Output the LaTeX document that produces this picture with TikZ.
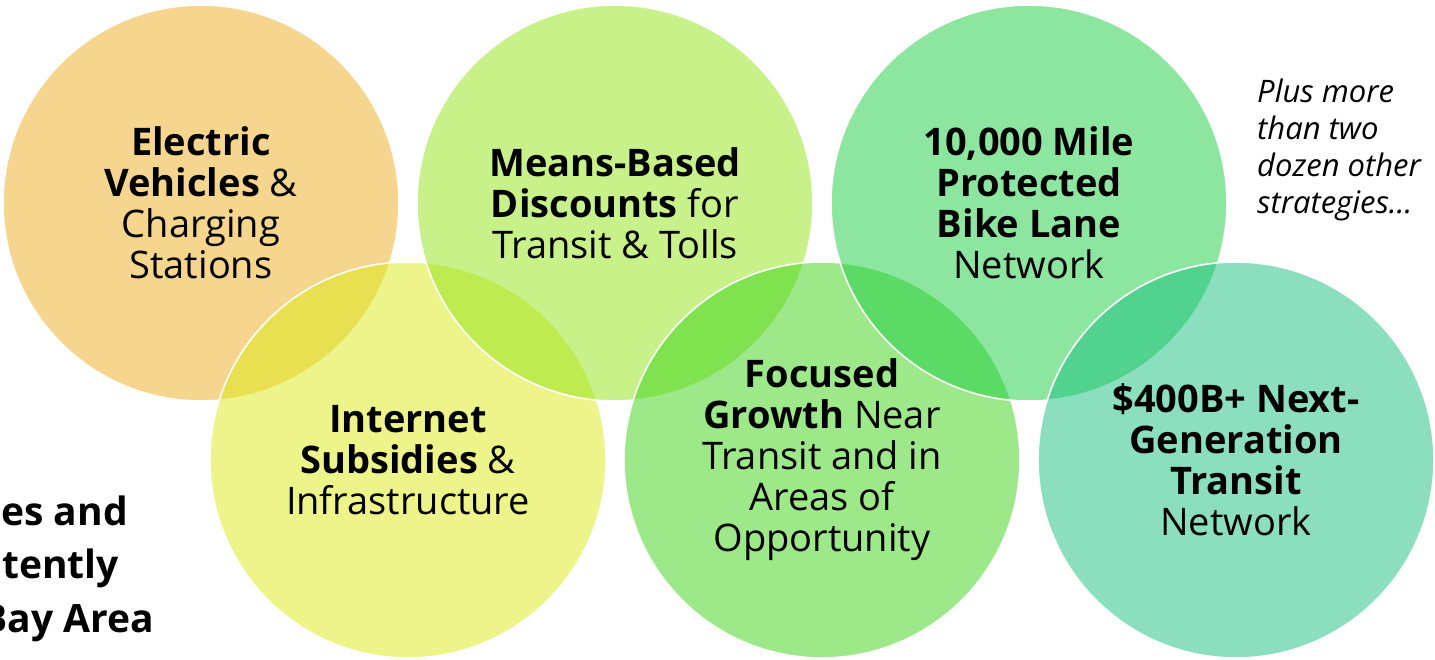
\documentclass[tikz,border=0pt]{standalone}
\usepackage{fontspec}
\setmainfont{Open Sans}
\definecolor{evcol}{RGB}{237,173,31}
\definecolor{meanscol}{RGB}{145,227,21}
\definecolor{netcol}{RGB}{219,235,21}
\definecolor{growcol}{RGB}{59,211,21}
\definecolor{bikecol}{RGB}{27,205,65}
\definecolor{transitcol}{RGB}{23,191,125}
\begin{document}
\begin{tikzpicture}[x=1pt,y=-1pt,
  bubble/.style={circle, draw=white, line width=1.6pt, minimum size=396pt,
    inner sep=0pt, fill opacity=0.5, text opacity=1, align=center,
    font=\fontsize{38}{41}\selectfont},
  note/.style={font=\itshape\fontsize{31}{37}\selectfont, align=left,
    anchor=base west, inner sep=0pt},
  side/.style={font=\bfseries\fontsize{39}{54}\selectfont, anchor=base east, inner sep=0pt}]
\useasboundingbox (0,0) rectangle (1435,659);
\clip (0,0) rectangle (1435,659);

% bubbles, drawn in zig-zag order so each later one overlaps the previous
\node[bubble, fill=evcol] (ev) at (201,203)
  {\textbf{Electric}\\\textbf{Vehicles} \&\\Charging\\Stations};
\node[bubble, fill=netcol] (net) at (408,460)
  {\textbf{Internet}\\\textbf{Subsidies} \&\\Infrastructure};
\node[bubble, fill=meanscol] (means) at (615,203)
  {\textbf{Means-Based}\\\textbf{Discounts} for\\Transit \& Tolls};
\node[bubble, fill=growcol] (grow) at (822,460)
  {\textbf{Focused}\\\textbf{Growth} Near\\Transit and in\\Areas of\\Opportunity};
\node[bubble, fill=bikecol] (bike) at (1029,203)
  {\textbf{10,000 Mile}\\\textbf{Protected}\\\textbf{Bike Lane}\\Network};
\node[bubble, fill=transitcol] (transit) at (1236,460)
  {\textbf{\$400B+ Next-}\\\textbf{Generation}\\\textbf{Transit}\\Network};

% side note
\node[note] (more) at (1257,213) {Plus more\\than two\\dozen other\\strategies…};

% heading fragments running in from the left edge
\node[side] (l1) at (128,525) {es and};
\node[side] (l2) at (119,578) {tently};
\node[side] (l3) at (154,632) {Bay Area};
\end{tikzpicture}
\end{document}
